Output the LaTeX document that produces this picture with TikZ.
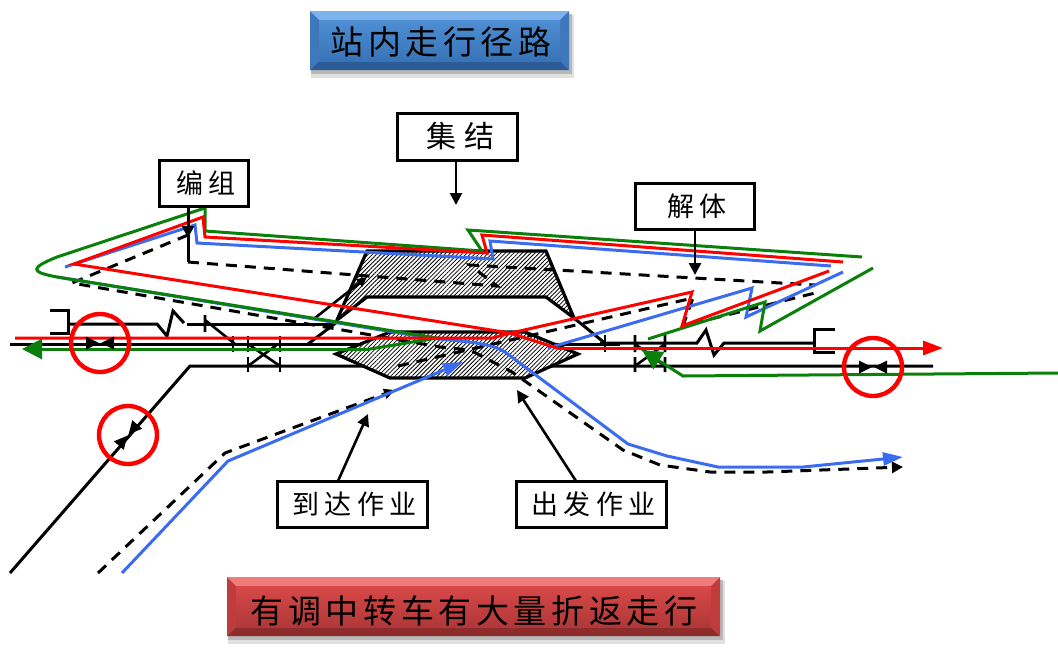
\documentclass[tikz,border=0pt]{standalone}
\usepackage{fontspec}
\setmainfont{Noto Sans CJK SC}
\usetikzlibrary{arrows.meta,patterns.meta}
\definecolor{tblue}{HTML}{3B6CF0}
\definecolor{tgreen}{HTML}{0A800A}
\definecolor{tred}{HTML}{FF0000}
\tikzset{
 track/.style={line width=3pt,black},
 rl/.style={line width=3pt,tred,line join=miter},
 gl/.style={line width=3pt,tgreen},
 bl/.style={line width=3pt,tblue},
 dl/.style={line width=3pt,black,dash pattern=on 11pt off 8pt},
 lab/.style={draw,line width=3pt,fill=white,inner sep=0pt,anchor=center,font=\fontsize{27}{27}\selectfont\addfontfeature{LetterSpace=20}},
 bigl/.style={font=\fontsize{30}{30}\selectfont\addfontfeature{LetterSpace=25}},
 call/.style={line width=2.6pt,-{Triangle[length=12pt,width=12pt]}},
 ring/.style={draw=tred,line width=4.4pt,circle,minimum size=58pt,inner sep=0pt},
 hat/.style={preaction={fill=white},pattern={Lines[angle=45,distance=3pt,line width=.8pt]},draw=black,line width=3.2pt,line join=miter},
 tick/.style={line width=2.6pt},
 bannertext/.style={inner sep=0pt,font=\fontsize{33}{33}\selectfont\addfontfeature{LetterSpace=14}},
}
\newcommand{\bowt}[3]{\begin{scope}[shift={(#1,#2)},rotate=#3]
\fill (-14,-6.5)--(-1,0)--(-14,6.5)--cycle; \fill (14,-6.5)--(1,0)--(14,6.5)--cycle;\end{scope}}
\newcommand{\bannerbox}[9]{%
\fill[black!12] (#1+1,#2+4) rectangle (#3+5,#4+8);
\fill[black!28] (#1+1,#2+3) rectangle (#3+3,#4+4);
\fill[#5] (#1,#2)--(#3,#2)--(#3-9,#2+9)--(#1+9,#2+9)--cycle;
\fill[#6] (#1,#2)--(#1+9,#2+9)--(#1+9,#4-9)--(#1,#4)--cycle;
\fill[#6] (#3,#2)--(#3-9,#2+9)--(#3-9,#4-9)--(#3,#4)--cycle;
\fill[#7] (#1,#4)--(#1+9,#4-9)--(#3-9,#4-9)--(#3,#4)--cycle;
\shade[top color=#8,bottom color=#9] (#1+9,#2+9) rectangle (#3-9,#4-9);
}
\definecolor{bt}{HTML}{7DB2EC}\definecolor{bs}{HTML}{3E78BC}\definecolor{bb}{HTML}{2C5C98}\definecolor{bu}{HTML}{4E8ED2}\definecolor{bd}{HTML}{3873B8}
\definecolor{rt}{HTML}{F07C7C}\definecolor{rs}{HTML}{C03C3C}\definecolor{rb}{HTML}{8E2C2C}\definecolor{ru}{HTML}{D84848}\definecolor{rd}{HTML}{B03838}
\begin{document}
\begin{tikzpicture}[x=1pt,y=-1pt]
\useasboundingbox (0,0) rectangle (1058,665);
% banners
\bannerbox{310}{11}{569}{70}{bt}{bs}{bb}{bu}{bd}
\node[bannertext] (ttl) at (441,41.5) {站内走行径路};
\bannerbox{227}{577}{720}{636}{rt}{rs}{rb}{ru}{rd}
\node[bannertext] (btm) at (474,611) {有调中转车有大量折返走行};
% black tracks
\coordinate (a1) at (10,344); \coordinate (a2) at (620,344);
\draw[track] (a1)--(a2);
\draw[track] (600,343)--(697,343)--(706,330)--(714,355)--(724,343)--(814,343);
\draw[track] (835,329)--(814,329)--(814,352)--(835,352);
\draw[track] (10,573)--(190,366)--(933,366);
\draw[track] (50,310)--(68,310)--(68,333)--(50,333);
\draw[track] (68,324)--(157,324)--(167,336)--(173,311)--(184,323);
\draw[track] (187,324)--(335,324);
\draw[tick] (205,315)--(205,332) (205,320)--(235,344);
\draw[tick] (233,336)--(233,352) (248,336)--(248,352) (280,336)--(280,352)
 (248,357)--(248,372) (280,357)--(280,372);
\draw[tick] (248,366)--(278,344) (248,344)--(280,366);
\draw[track] (308,344)--(337,322);
\draw[track] (574,318)--(606,344);
\draw[tick] (605,335)--(605,352);
\draw[tick] (635,335)--(635,352) (665,335)--(665,352) (635,357)--(635,372) (665,357)--(665,372) (635,366)--(665,344) (635,344)--(665,366);
% hatched
\path[hat] (367,251)--(546,251)--(574,318)--(546,297)--(367,297)--(337,320)--cycle;
\path[hat] (336,354)--(390,332)--(525,332)--(578,354)--(525,378)--(390,378)--cycle;
\draw[tick,-{Triangle[length=10pt,width=9pt]}] (315,318)--(367,277);
% dashed
\draw[dl,-{Triangle[length=11pt,width=11pt,sep=0pt]}] (188,235)--(72,283)--(440,347)--(470,350)--(512,372)--(623,450)--(660,465)--(710,472)--(767,472)--(903,467);
\draw[dl] (188,262)--(497,286)--(470,265)--(815,285);
\draw[dl] (398,366)--(693,298)--(683,326)--(815,293);
\draw[dl,-{Triangle[length=11pt,width=10pt,sep=0pt]}] (98,573)--(225,453)--(395,390);
% coloured paths
\draw[bl] (65,267)--(195,225)--(197,243)--(493,259)--(490,241)--(831,266);
\draw[bl] (843,272)--(746,317)--(752,288)--(548,348);
\draw[bl,-{Triangle[length=20pt,width=13pt,sep=0pt]}] (57,277)--(430,338) .. controls (470,342) and (490,343) .. (505,352)--(628,444)--(667,456)--(718,467)--(803,467)--(903,457);
\draw[bl,-{Triangle[length=20pt,width=13pt,sep=0pt]}] (122,573)--(228,461)--(463,362);
\draw[gl] (862,257)--(468,230)--(482,251)--(205,231)--(205,208)--(57,257) .. controls (30,268) and (30,272) .. (57,277)--(437,338)--(370,349);
\draw[gl,-{Triangle[length=20pt,width=20pt,sep=0pt]}] (370,349)--(22,349);
\draw[gl] (873,268)--(760,331)--(765,302)--(648,339);
\draw[gl,-{Triangle[length=20pt,width=20pt,sep=0pt]}] (1058,373)--(683,376)--(642,350);
\draw[rl] (843,262)--(482,235)--(487,253)--(205,237)--(203,217)--(74,264)--(510,333)--(557,348);
\draw[rl,-{Triangle[length=20pt,width=14pt,sep=0pt]}] (557,348)--(943,348);
\draw[rl] (15,338)--(492,338)--(511,333)--(692,292)--(682,326)--(829,271);
% couplers
\bowt{100}{343}{0}
\bowt{128}{435}{49}
\bowt{873}{367}{0}
\node[ring] (c1) at (100,343) {};
\node[ring] (c2) at (128,435) {};
\node[ring] (c3) at (873,367) {};
% labels
\node[lab,bigl,minimum width=120pt,minimum height=47pt] (jj) at (457,136.5) {\hspace*{7pt}集结};
\node[lab,minimum width=89pt,minimum height=46pt] (bz) at (203.5,183) {\hspace*{5pt}编组};
\node[lab,minimum width=119pt,minimum height=46pt] (jt) at (694.5,206) {\hspace*{5pt}解体};
\node[lab,minimum width=150pt,minimum height=46pt] (dd) at (352,504) {\hspace*{5pt}到达作业};
\node[lab,minimum width=150pt,minimum height=46pt] (cf) at (591,504) {\hspace*{5pt}出发作业};
\coordinate (jje) at (456,205);
\coordinate (bze) at (188,262);
\coordinate (bzm) at (188,238);
\coordinate (jte) at (695,275);
\coordinate (dde) at (368,414);
\coordinate (cfe) at (517,390);
\coordinate (dds) at (338,481);
\coordinate (cfs) at (576,481);
\draw[call] (jje |- jj.south)--(jje);
\draw[track] (bze |- bz.south)--(bze);
\draw[call] (bze |- bz.south)--(bzm);
\draw[call] (jte |- jt.south)--(jte);
\draw[call] (dds)--(dde);
\draw[call] (cfs)--(cfe);
\end{tikzpicture}
\end{document}
